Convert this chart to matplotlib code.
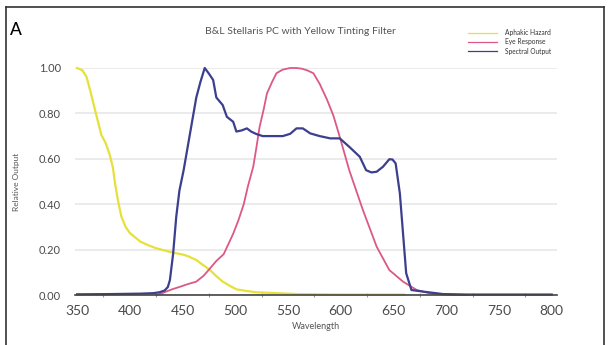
import numpy as np
import matplotlib.pyplot as plt
from matplotlib.lines import Line2D

# values
hazard_nm = [350, 355, 359, 363, 367, 373, 377, 381, 384, 386, 389, 392, 396, 400, 410,
             417, 425, 438, 445, 452, 457, 463, 470, 476, 482, 488, 495, 501, 510, 520,
             540, 560, 600, 660]
hazard_val = [1.00, 0.99, 0.96, 0.89, 0.815, 0.705, 0.67, 0.617, 0.56, 0.49, 0.41, 0.345,
              0.30, 0.273, 0.235, 0.22, 0.206, 0.19, 0.183, 0.176, 0.167, 0.154, 0.13,
              0.11, 0.083, 0.059, 0.04, 0.025, 0.018, 0.012, 0.008, 0.004, 0.002, 0.002]

eye_nm = [425, 430, 440, 448, 455, 463, 470, 476, 482, 489, 493, 498, 503, 508, 512, 517,
          520, 523, 527, 530, 535, 539, 545, 552, 558, 563, 568, 574, 580, 587, 593, 599,
          608, 621, 634, 646, 659, 672, 684, 700, 720]
eye_val = [0.0, 0.007, 0.025, 0.037, 0.048, 0.059, 0.085, 0.117, 0.15, 0.18, 0.22, 0.27,
           0.33, 0.40, 0.48, 0.565, 0.65, 0.74, 0.82, 0.888, 0.94, 0.977, 0.993, 1.0, 1.0,
           0.997, 0.99, 0.977, 0.93, 0.86, 0.79, 0.697, 0.55, 0.374, 0.213, 0.11, 0.059,
           0.022, 0.008, 0.002, 0.0]

spec_nm = [350, 380, 410, 422, 428, 433, 436, 438, 441, 444, 447, 451, 454, 457, 463, 467,
           471, 475, 479, 482, 488, 492, 498, 501, 506, 511, 515, 520, 526, 533, 545, 552,
           558, 564, 571, 580, 590, 599, 608, 618, 624, 629, 634, 640, 646, 649, 652, 656,
           659, 662, 667, 678, 697, 720, 800]
spec_val = [0.003, 0.004, 0.006, 0.008, 0.012, 0.02, 0.035, 0.066, 0.18, 0.345, 0.46,
            0.55, 0.63, 0.71, 0.87, 0.94, 1.0, 0.975, 0.947, 0.87, 0.837, 0.785, 0.763,
            0.72, 0.725, 0.734, 0.72, 0.709, 0.70, 0.70, 0.70, 0.71, 0.734, 0.734, 0.712,
            0.70, 0.69, 0.69, 0.653, 0.609, 0.55, 0.54, 0.543, 0.565, 0.598, 0.597, 0.58,
            0.448, 0.272, 0.096, 0.022, 0.015, 0.004, 0.002, 0.002]

xticks = np.arange(350, 801, 50)
yticks = [0.0, 0.2, 0.4, 0.6, 0.8, 1.0]

plt.rcParams['font.family'] = ['Lato', 'DejaVu Sans']

fig = plt.figure(figsize=(6.08, 3.45), dpi=100)
ax = fig.add_axes([75 / 608, 1 - 295 / 345, (557 - 75) / 608, (295 - 68) / 345])

ax.plot(hazard_nm, hazard_val, color='#e6e13a', lw=1.6, label='Aphakic Hazard', clip_on=False)
ax.plot(eye_nm, eye_val, color='#dc5886', lw=1.3, label='Eye Response', clip_on=False)
ax.plot(spec_nm, spec_val, color='#3b3f8e', lw=1.6, label='Spectral Output', clip_on=False)

ax.set_xlim(348, 805)
ax.set_ylim(0, 1.0)
ax.set_xticks(xticks)
ax.set_xticks(np.arange(350, 801, 25), minor=True)
ax.set_yticks(yticks)
ax.set_yticklabels(['%.2f' % v for v in yticks])
ax.grid(axis='y', color='#e8e8e8', lw=1.2)
ax.set_axisbelow(True)
for s in ['top', 'right', 'left']:
    ax.spines[s].set_visible(False)
ax.spines['bottom'].set_color('#444444')
ax.spines['bottom'].set_linewidth(1.2)
ax.tick_params(axis='x', which='both', direction='inout', length=3, width=0.8,
               color='#999999', labelsize=10, labelcolor='#4a4a4a', pad=7.5)
ax.tick_params(axis='x', which='major', length=0)
ax.tick_params(axis='y', length=0, labelsize=8, labelcolor='#4a4a4a', pad=10)
ax.set_xlabel('Wavelength', fontsize=6.5, color='#555555', labelpad=3)
ax.set_ylabel('Relative Output', fontsize=6, color='#555555', labelpad=14)

fig.text(10 / 608, 1 - 30 / 345, 'A', fontsize=12.5, va='center', ha='left',
         fontweight='medium')
fig.text(300 / 608, 1 - 31 / 345, 'B&L Stellaris PC with Yellow Tinting Filter',
         fontsize=7.5, color='#555555', ha='center', va='center')

ax.legend(loc='upper left', bbox_to_anchor=(468 / 608, 1 - 29 / 345),
          bbox_transform=fig.transFigure, frameon=False, fontsize=4.8,
          handlelength=4.3, handletextpad=1.3, labelspacing=0.35,
          borderpad=0, borderaxespad=0, labelcolor='#333333')
for line in ax.get_legend().get_lines():
    line.set_linewidth(0.9)

# border around the panel: left, top and right edges
xl, xr, yt = 6 / 608, 604 / 608, 1 - 7 / 345
for xs, ys in [([xl, xl], [0, yt]), ([xl, xr], [yt, yt]), ([xr, xr], [0, yt])]:
    fig.add_artist(Line2D(xs, ys, transform=fig.transFigure, color='#333333', lw=1.2))

fig.savefig('out.png', dpi=100)
